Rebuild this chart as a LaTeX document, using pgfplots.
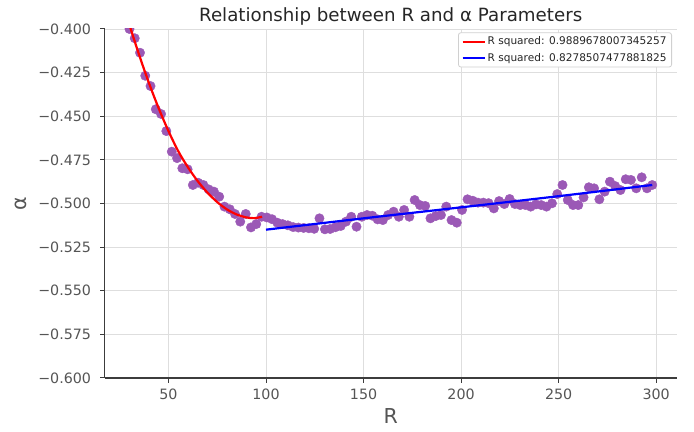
\documentclass[border=0pt]{standalone}
\usepackage{fontspec}
\setmainfont{DejaVu Sans}
\usepackage{pgfplots}
\pgfplotsset{compat=1.18}
\definecolor{Pt}{HTML}{9B59B6}
\definecolor{Grid}{HTML}{DEDEDE}
\definecolor{Spine}{HTML}{3C3C3C}
\definecolor{Tick}{HTML}{555555}
\definecolor{Title}{HTML}{262626}
\definecolor{LegBox}{HTML}{D0D0D0}

\pgfplotstableread{
R alpha
30.0 -0.4000
32.7 -0.4053
35.4 -0.4136
38.1 -0.4268
40.8 -0.4327
43.5 -0.4460
46.2 -0.4487
48.9 -0.4585
51.7 -0.4703
54.4 -0.4740
57.1 -0.4798
59.8 -0.4804
62.5 -0.4894
65.2 -0.4881
67.9 -0.4894
70.6 -0.4919
73.3 -0.4932
76.0 -0.4961
78.7 -0.5018
81.4 -0.5033
84.1 -0.5060
86.8 -0.5104
89.6 -0.5060
92.3 -0.5137
95.0 -0.5118
97.7 -0.5076
100.4 -0.5080
103.1 -0.5090
105.8 -0.5110
108.5 -0.5118
111.2 -0.5125
113.9 -0.5135
116.6 -0.5138
119.3 -0.5140
122.0 -0.5142
124.7 -0.5145
127.4 -0.5085
130.2 -0.5148
132.9 -0.5146
135.6 -0.5136
138.3 -0.5129
141.0 -0.5104
143.7 -0.5076
146.4 -0.5133
149.1 -0.5076
151.8 -0.5066
154.5 -0.5070
157.2 -0.5091
159.9 -0.5095
162.6 -0.5066
165.4 -0.5047
168.1 -0.5076
170.8 -0.5037
173.5 -0.5076
176.2 -0.4980
178.9 -0.5009
181.6 -0.5014
184.3 -0.5085
187.0 -0.5072
189.7 -0.5066
192.4 -0.5018
195.1 -0.5095
197.8 -0.5110
200.5 -0.5037
203.3 -0.4976
206.0 -0.4984
208.7 -0.4995
211.4 -0.4995
214.1 -0.4998
216.8 -0.5028
219.5 -0.4986
222.2 -0.5003
224.9 -0.4974
227.6 -0.5003
230.3 -0.5009
233.0 -0.5009
235.7 -0.5018
238.4 -0.5005
241.1 -0.5009
243.8 -0.5018
246.6 -0.4999
249.3 -0.4946
252.0 -0.4894
254.7 -0.4980
257.4 -0.5009
260.1 -0.5009
262.8 -0.4965
265.5 -0.4907
268.2 -0.4913
270.9 -0.4976
273.6 -0.4932
276.3 -0.4875
279.0 -0.4900
281.7 -0.4923
284.4 -0.4861
287.1 -0.4865
289.8 -0.4913
292.6 -0.4850
295.3 -0.4913
298.0 -0.4894
}\pts

% fitted curve
\pgfplotstableread{
R alpha
30 -0.3977
35 -0.4150
40 -0.4310
45 -0.4455
50 -0.4585
55 -0.4700
60 -0.4793
65 -0.4872
70 -0.4938
75 -0.4992
80 -0.5034
85 -0.5063
90 -0.5080
94 -0.5084
98 -0.5076
}\fitred

\pgfplotstableread{
R alpha
100 -0.5150
150 -0.5085
200 -0.5022
250 -0.4958
298 -0.4894
}\fitblue

\begin{document}
\begin{tikzpicture}
\useasboundingbox (0,0) rectangle (694bp,432bp);
\begin{axis}[
  at={(104.5bp,54bp)}, anchor=south west,
  width=572.5bp, height=349bp, scale only axis,
  xmin=17.2, xmax=310.7, ymin=-0.6, ymax=-0.4,
  axis lines=left,
  axis line style={-, draw=Spine, line width=1.1bp},
  grid=major,
  grid style={Grid, line width=0.9bp},
  tick align=outside,
  major tick length=4.5bp,
  tick style={Spine, line width=1bp},
  xtick={50,100,150,200,250,300},
  xticklabels={50,100,150,200,250,300},
  ytick={-0.6,-0.575,-0.55,-0.525,-0.5,-0.475,-0.45,-0.425,-0.4},
  yticklabels={−0.600,−0.575,−0.550,−0.525,−0.500,−0.475,−0.450,−0.425,−0.400},
  ticklabel style={font=\fontsize{14.3}{16}\selectfont, text=Tick, inner sep=0pt},
  xticklabel style={anchor=north, yshift=-5.8bp},
  yticklabel style={anchor=east, xshift=-8.8bp},
  clip marker paths=true,
  legend cell align=left,
  legend style={at={(rel axis cs:1,1)}, anchor=north east, xshift=-5bp, yshift=-3.3bp,
    draw=LegBox, rounded corners=2.5bp, fill=white, line width=0.8bp,
    font=\fontsize{10.6}{12}\selectfont, text=Title,
    inner xsep=3bp, inner ysep=3bp, row sep=4.5bp,
    nodes={inner ysep=1.2bp}},
  legend image code/.code={\draw[#1] (0bp,0bp) -- (22bp,0bp);},
]
\addplot[only marks, mark=*, mark size=4.7bp, draw=Pt, fill=Pt, forget plot] table[x=R, y=alpha] {\pts};
\addplot[red, line width=2.2bp, smooth] table[x=R, y=alpha] {\fitred};
\addlegendentry{R squared: 0.9889678007345257}
\addplot[blue, line width=2.2bp, smooth] table[x=R, y=alpha] {\fitblue};
\addlegendentry{R squared: 0.8278507477881825}
\end{axis}
\node[anchor=base, font=\fontsize{18.3}{20}\selectfont, text=Title] at (390.7bp,410.5bp) {Relationship between R and α Parameters};
\node[anchor=base, font=\fontsize{20.6}{24}\selectfont, text=Tick] at (390.7bp,8.7bp) {R};
\node[anchor=base, rotate=90, font=\fontsize{20.6}{24}\selectfont, text=Tick] at (26.7bp,228.5bp) {α};
\end{tikzpicture}
\end{document}
